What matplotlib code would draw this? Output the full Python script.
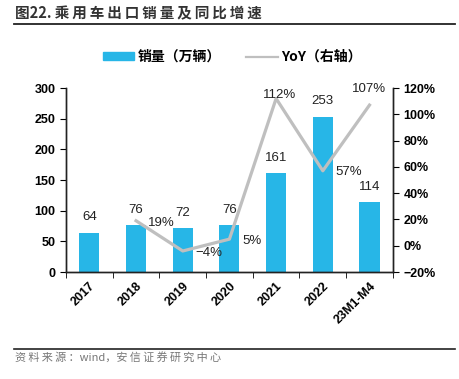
import matplotlib
matplotlib.use("Agg")
import matplotlib.pyplot as plt
from matplotlib.lines import Line2D
from matplotlib.patches import Patch
import numpy as np

plt.rcParams['font.family'] = ['Liberation Sans', 'Noto Sans CJK SC', 'DejaVu Sans']

# 数据
categories = ['2017', '2018', '2019', '2020', '2021', '2022', '23M1-M4']
sales = [64, 76, 72, 76, 161, 253, 114]          # 万辆
yoy = [None, 19, -4, 5, 112, 57, 107]            # %
yoy_labels = ['', '19%', '-4%', '5%', '112%', '57%', '107%']

bar_color = '#27b6e7'
line_color = '#bfbfbf'
cjk = ['Noto Sans CJK SC', 'DejaVu Sans']

fig = plt.figure(figsize=(4.6, 3.79), dpi=100)
ax = fig.add_axes([0.1435, 0.2823, 0.7105, 0.4855])
ax2 = ax.twinx()

x = np.arange(len(categories))
ax.bar(x, sales, width=0.43, color=bar_color, zorder=2)
ax.set_xlim(-0.5, len(categories) - 0.5)
ax.set_ylim(0, 300)
ax.set_yticks(np.arange(0, 301, 50))

for xi, v in zip(x, sales):
    ax.text(xi, v + 25, str(v), ha='center', va='center', fontsize=9.5, color='#222222')

# YoY 折线
xl = [xi for xi, v in zip(x, yoy) if v is not None]
yl = [v for v in yoy if v is not None]
ax2.plot(xl, yl, color=line_color, lw=2.3, zorder=3)
ax2.set_ylim(-20, 120)
ax2.set_yticks(np.arange(-20, 121, 20))
ax2.set_yticklabels([f'{t}%'.replace('-', '−') for t in range(-20, 121, 20)])

# 标签位置偏移 (dx 以类别计, dy 以 % 计)
offsets = {1: (0.54, -2), 2: (0.55, -1.5), 3: (0.48, -1.4), 4: (0.08, 2.7), 5: (0.56, -1), 6: (0.0, 12)}
for i, (dx, dy) in offsets.items():
    ax2.text(x[i] + dx, yoy[i] + dy, yoy_labels[i].replace('-', '−'), ha='center', va='center',
             fontsize=9.5, color='#222222')

# 轴样式
ax.set_xticks(x)
ax.set_xticklabels(categories, rotation=45, ha='right', rotation_mode='anchor', fontsize=9, fontweight='bold')
ax.set_xticks(np.arange(-0.5, len(categories), 1), minor=True)
ax.tick_params(axis='x', which='major', length=0, pad=6)
ax.tick_params(axis='x', which='minor', length=4, direction='out')
ax.tick_params(axis='y', length=4, direction='out', labelsize=9)
ax2.tick_params(axis='y', length=4, direction='out', labelsize=9)
for lab in ax.get_yticklabels() + ax2.get_yticklabels():
    lab.set_fontweight('bold')
for a in (ax, ax2):
    a.spines['top'].set_visible(False)
    for s in ('left', 'right', 'bottom'):
        a.spines[s].set_linewidth(1.0)
        a.spines[s].set_color('#222222')

# 图例
handles = [Patch(color=bar_color), Line2D([0], [0], color=line_color, lw=1.6)]
fig.legend(handles, ['销量（万辆）', 'YoY（右轴）'], loc='center', bbox_to_anchor=(0.505, 0.85),
           ncol=2, frameon=False, handlelength=2.3, handleheight=0.45, handletextpad=0.25,
           columnspacing=1.8, prop={'family': cjk, 'size': 10, 'weight': 'bold'})

# 标题与来源
title = '图22. ' + '\u2009'.join('乘用车出口销量及同比增速')
fig.text(0.032, 0.966, title, fontsize=10.5, fontweight='bold',
         family=cjk, color='#333333', va='center')
fig.add_artist(Line2D([0.03, 0.989], [0.937, 0.937], color='#222222', lw=1.3))
fig.add_artist(Line2D([0.03, 0.989], [0.079, 0.079], color='#222222', lw=1.2))
source = '\u2009'.join('资料来源：') + 'wind，' + '\u2009'.join('安信证券研究中心')
fig.text(0.032, 0.057, source, fontsize=8, style='italic',
         family=cjk, color='#777777', va='center')

fig.savefig('out.png', dpi=100)
